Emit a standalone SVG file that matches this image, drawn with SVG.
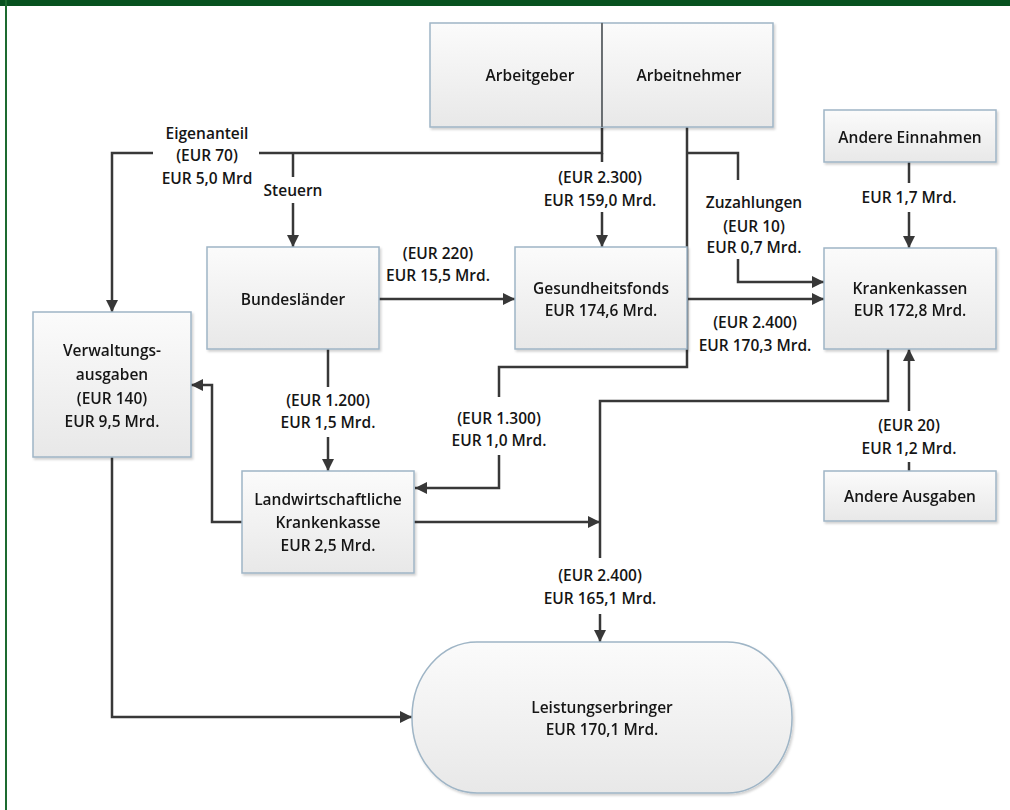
<svg xmlns="http://www.w3.org/2000/svg" width="1010" height="810" viewBox="0 0 1010 810">
<style>
.box{fill:url(#g);stroke:#9fb5c6;stroke-width:1.5}
.t{font-family:"Open Sans","Liberation Sans",sans-serif;font-weight:600;font-size:15.5px;fill:#151515;text-anchor:middle;dominant-baseline:central}
.c{fill:none;stroke:#383838;stroke-width:2.5}
.a{marker-end:url(#arr)}
</style>
<defs>
<linearGradient id="g" x1="0" y1="0" x2="0" y2="1">
<stop offset="0" stop-color="#fbfbfb"/>
<stop offset="1" stop-color="#e8e8e8"/>
</linearGradient>
<filter id="sh" x="-5%" y="-5%" width="115%" height="120%">
<feDropShadow dx="1.5" dy="2" stdDeviation="1.2" flood-color="#000" flood-opacity="0.18"/>
</filter>
<marker id="arr" viewBox="0 0 12 12" refX="12" refY="6" markerWidth="12" markerHeight="12" markerUnits="userSpaceOnUse" orient="auto">
<path d="M0,0 L12,6 L0,12 z" fill="#383838"/>
</marker>
</defs>
<rect x="0" y="0" width="1010" height="810" fill="#fff"/>
<rect x="0" y="0" width="1010" height="6" fill="#07521f"/>
<rect x="5" y="0" width="2" height="810" fill="#1d6b30"/>

<g id="connectors">
<path class="c" d="M153,153 H112 V310"/>
<path class="c a" d="M112,300 V312"/>
<path class="c" d="M259,153 H602 V127"/>
<path class="c" d="M293,153 V177"/>
<path class="c a" d="M293,203 V247"/>
<path class="c" d="M602,153 V162"/>
<path class="c a" d="M602,212 V247"/>
<path class="c" d="M687,127 V367 H499 V397"/>
<path class="c a" d="M499,455 V488 H415"/>
<path class="c" d="M687,153 H738 V180"/>
<path class="c a" d="M738,259 V282 H824"/>
<path class="c a" d="M687,299 H824"/>
<path class="c a" d="M379,299 H515"/>
<path class="c" d="M909,162 V183"/>
<path class="c a" d="M909,212 V248"/>
<path class="c" d="M328,349 V387"/>
<path class="c a" d="M328,437 V471"/>
<path class="c a" d="M242,522 H212 V385 H191"/>
<path class="c a" d="M414,522 H600"/>
<path class="c" d="M888,349 V401 H600 V558"/>
<path class="c a" d="M600,614 V642"/>
<path class="c" d="M909,471 V462"/>
<path class="c a" d="M909,411 V349"/>
<path class="c a" d="M112,457 V717 H412"/>
</g>

<g id="arbeitgeber" filter="url(#sh)">
<rect class="box" x="430" y="23" width="172" height="104"/>
<text class="t" x="530" y="75">Arbeitgeber</text>
</g>
<g id="arbeitnehmer" filter="url(#sh)">
<rect class="box" x="602" y="23" width="171" height="104"/>
<text class="t" x="689" y="75">Arbeitnehmer</text>
</g>
<line x1="602" y1="23" x2="602" y2="127" stroke="#555" stroke-width="1.5"/>

<g id="andere-einnahmen" filter="url(#sh)">
<rect class="box" x="824" y="110" width="172" height="52"/>
<text class="t" x="910" y="137">Andere Einnahmen</text>
</g>
<g id="bundeslaender" filter="url(#sh)">
<rect class="box" x="207" y="247" width="172" height="102"/>
<text class="t" x="293" y="299">Bundesländer</text>
</g>
<g id="gesundheitsfonds" filter="url(#sh)">
<rect class="box" x="515" y="247" width="172" height="102"/>
<text class="t" x="601" y="288">Gesundheitsfonds</text>
<text class="t" x="601" y="310">EUR 174,6 Mrd.</text>
</g>
<g id="krankenkassen" filter="url(#sh)">
<rect class="box" x="824" y="248" width="172" height="101"/>
<text class="t" x="910" y="288">Krankenkassen</text>
<text class="t" x="910" y="310">EUR 172,8 Mrd.</text>
</g>
<g id="verwaltungsausgaben" filter="url(#sh)">
<rect class="box" x="33" y="312" width="158" height="145"/>
<text class="t" x="112" y="350">Verwaltungs-</text>
<text class="t" x="112" y="374">ausgaben</text>
<text class="t" x="112" y="398">(EUR 140)</text>
<text class="t" x="112" y="421">EUR 9,5 Mrd.</text>
</g>
<g id="landwirtschaftliche-krankenkasse" filter="url(#sh)">
<rect class="box" x="242" y="471" width="172" height="102"/>
<text class="t" x="328" y="499">Landwirtschaftliche</text>
<text class="t" x="328" y="522">Krankenkasse</text>
<text class="t" x="328" y="545">EUR 2,5 Mrd.</text>
</g>
<g id="andere-ausgaben" filter="url(#sh)">
<rect class="box" x="824" y="471" width="172" height="50"/>
<text class="t" x="910" y="496">Andere Ausgaben</text>
</g>
<g id="leistungserbringer" filter="url(#sh)">
<rect class="box" x="412" y="642" width="380" height="151" rx="65" ry="75"/>
<text class="t" x="602" y="707">Leistungserbringer</text>
<text class="t" x="602" y="729">EUR 170,1 Mrd.</text>
</g>

<g id="labels">
<text class="t" x="207" y="133">Eigenanteil</text>
<text class="t" x="207" y="155">(EUR 70)</text>
<text class="t" x="207" y="178">EUR 5,0 Mrd</text>
<text class="t" x="293" y="190">Steuern</text>
<text class="t" x="600" y="177">(EUR 2.300)</text>
<text class="t" x="600" y="200">EUR 159,0 Mrd.</text>
<text class="t" x="754" y="202">Zuzahlungen</text>
<text class="t" x="754" y="226">(EUR 10)</text>
<text class="t" x="754" y="247">EUR 0,7 Mrd.</text>
<text class="t" x="909" y="197">EUR 1,7 Mrd.</text>
<text class="t" x="438" y="253">(EUR 220)</text>
<text class="t" x="438" y="275">EUR 15,5 Mrd.</text>
<text class="t" x="755" y="322">(EUR 2.400)</text>
<text class="t" x="755" y="345">EUR 170,3 Mrd.</text>
<text class="t" x="328" y="400">(EUR 1.200)</text>
<text class="t" x="328" y="422">EUR 1,5 Mrd.</text>
<text class="t" x="499" y="418">(EUR 1.300)</text>
<text class="t" x="499" y="440">EUR 1,0 Mrd.</text>
<text class="t" x="909" y="425">(EUR 20)</text>
<text class="t" x="909" y="448">EUR 1,2 Mrd.</text>
<text class="t" x="600" y="575">(EUR 2.400)</text>
<text class="t" x="600" y="598">EUR 165,1 Mrd.</text>
</g>
</svg>
